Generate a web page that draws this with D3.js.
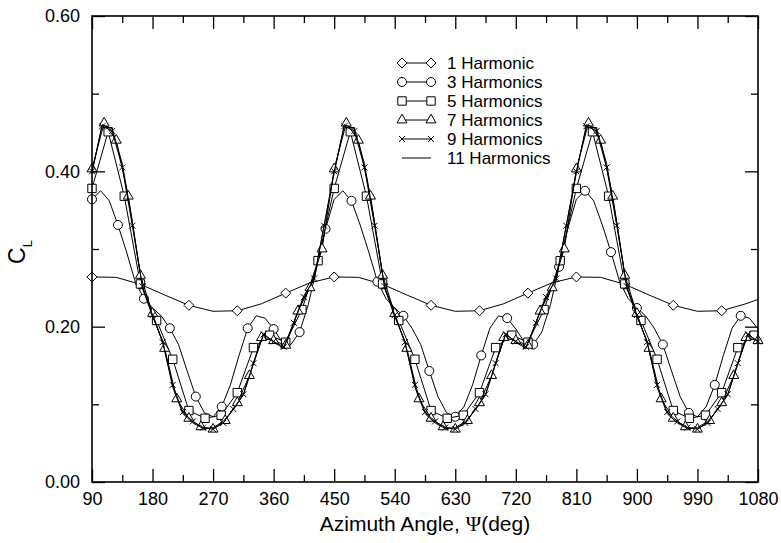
<!DOCTYPE html>
<html>
<head>
<meta charset="utf-8">
<script src="https://cdn.jsdelivr.net/npm/d3@7"></script>
<style>
  body { margin: 0; background: #fff; }
  svg { display: block; }
  text { font-family: "Liberation Sans", Arial, Helvetica, sans-serif; fill: #000; }
</style>
</head>
<body>
<svg id="chart" width="781" height="543"></svg>
<script>
// ---------------- DATA ----------------
const seriesNames = ["1 Harmonic", "3 Harmonics", "5 Harmonics", "7 Harmonics", "9 Harmonics", "11 Harmonics"];

const xTickValues = [90, 180, 270, 360, 450, 540, 630, 720, 810, 900, 990, 1080];
const xMinorTickValues = [135, 225, 315, 405, 495, 585, 675, 765, 855, 945, 1035];
const yTickValues = [0, 0.2, 0.4, 0.6];
const yMinorTickValues = [0.1, 0.3, 0.5];

// 1 Harmonic (diamond every other point)
const h1Psi = [90,126,162,198,234,270,306,342,378,414,450,486,522,558,594,630,666,702,738,774,810,846,882,918,954,990,1026,1062,1080];
const h1CL  = [0.264,0.2635,0.2545,0.2408,0.2275,0.2198,0.2205,0.2295,0.2432,0.2565,
               0.264,0.2635,0.2545,0.2408,0.2275,0.2198,0.2205,0.2295,0.2432,0.2565,
               0.264,0.2635,0.2545,0.2408,0.2275,0.2198,0.2205,0.2295,0.235];

// 3 Harmonics (sample step 90/7 deg, circle every 3rd point)
const h3Start = 90, h3Step = 90 / 7;
const h3CL = [0.364,0.375,0.362,0.331,0.296,0.258,0.236,0.224,0.214,0.198,0.177,0.143,0.110,0.089,
              0.084,0.097,0.125,0.163,0.198,0.214,0.211,0.197,0.180,0.177,0.193,0.228,0.277,0.326,
              0.364,0.375,0.362,0.331,0.296,0.258,0.236,0.224,0.214,0.198,0.177,0.143,0.110,0.089,
              0.084,0.097,0.125,0.163,0.198,0.214,0.211,0.197,0.180,0.177,0.193,0.228,0.277,0.326,
              0.364,0.375,0.362,0.331,0.296,0.258,0.236,0.224,0.214,0.198,0.177,0.143,0.110,0.089,
              0.084,0.097,0.125,0.163,0.198,0.214,0.211,0.197];

// 5 Harmonics (step 24 deg, square at every point)
const h5Start = 90, h5Step = 24;
const h5CL = [0.378,0.451,0.368,0.255,0.208,0.158,0.092,0.082,0.086,0.115,0.173,0.189,0.180,0.222,0.285,
              0.378,0.451,0.368,0.255,0.208,0.158,0.092,0.082,0.086,0.115,0.173,0.189,0.180,0.222,0.285,
              0.378,0.451,0.368,0.255,0.208,0.158,0.092,0.082,0.086,0.115,0.173,0.189];

// 7 Harmonics (step 18 deg, triangle at every point)
const h7Start = 90, h7Step = 18;
const h7CL = [0.403,0.462,0.440,0.368,0.266,0.217,0.172,0.107,0.082,0.071,0.068,0.079,0.102,0.137,0.186,0.182,0.176,0.220,0.250,0.300,
              0.403,0.462,0.440,0.368,0.266,0.217,0.172,0.107,0.082,0.071,0.068,0.079,0.102,0.137,0.186,0.182,0.176,0.220,0.250,0.300,
              0.403,0.462,0.440,0.368,0.266,0.217,0.172,0.107,0.082,0.071,0.068,0.079,0.102,0.137,0.186,0.182];

// 9 Harmonics (step 15 deg, cross at every point)
const h9Start = 90, h9Step = 15;
const h9CL = [0.400,0.458,0.452,0.405,0.330,0.252,0.215,0.180,0.125,0.090,0.078,0.070,0.068,0.076,0.094,0.113,0.153,0.190,0.181,0.174,0.205,0.238,0.262,0.330,
              0.400,0.458,0.452,0.405,0.330,0.252,0.215,0.180,0.125,0.090,0.078,0.070,0.068,0.076,0.094,0.113,0.153,0.190,0.181,0.174,0.205,0.238,0.262,0.330,
              0.400,0.458,0.452,0.405,0.330,0.252,0.215,0.180,0.125,0.090,0.078,0.070,0.068,0.076,0.094,0.113,0.153,0.190,0.181];

// 11 Harmonics (step 15 deg, plain line)
const h11Start = 90, h11Step = 15;
const h11CL = [0.398,0.460,0.455,0.410,0.335,0.250,0.213,0.182,0.122,0.088,0.076,0.069,0.070,0.078,0.093,0.112,0.152,0.191,0.180,0.172,0.206,0.240,0.260,0.330,
               0.398,0.460,0.455,0.410,0.335,0.250,0.213,0.182,0.122,0.088,0.076,0.069,0.070,0.078,0.093,0.112,0.152,0.191,0.180,0.172,0.206,0.240,0.260,0.330,
               0.398,0.460,0.455,0.410,0.335,0.250,0.213,0.182,0.122,0.088,0.076,0.069,0.070,0.078,0.093,0.112,0.152,0.191,0.180];

// ---------------- BUILD ----------------
function stepped(start, step, vals) { return vals.map((v, i) => ({ psi: start + i * step, cl: v, i })); }
const series = [
  { name: seriesNames[0], pts: h1Psi.map((p, i) => ({ psi: p, cl: h1CL[i], i })), marker: "diamond", every: 2, maxIdx: 27 },
  { name: seriesNames[1], pts: stepped(h3Start, h3Step, h3CL), marker: "circle", every: 3, maxIdx: 999 },
  { name: seriesNames[2], pts: stepped(h5Start, h5Step, h5CL), marker: "square", every: 1, maxIdx: 999 },
  { name: seriesNames[3], pts: stepped(h7Start, h7Step, h7CL), marker: "triangle", every: 1, maxIdx: 999 },
  { name: seriesNames[4], pts: stepped(h9Start, h9Step, h9CL), marker: "cross", every: 1, maxIdx: 999 },
  { name: seriesNames[5], pts: stepped(h11Start, h11Step, h11CL), marker: null, every: 1, maxIdx: 999 }
];

const svg = d3.select("#chart");
const L = 92, R = 758, T = 16, B = 482;
const x = d3.scaleLinear().domain([90, 1080]).range([L, R]);
const y = d3.scaleLinear().domain([0, 0.6]).range([B, T]);

const markerPath = {
  diamond: "M0,-5L5,0L0,5L-5,0Z",
  square: "M-4.2,-4.2H4.2V4.2H-4.2Z",
  triangle: "M0,-5.8L5,2.9L-5,2.9Z",
  cross: "M-3,-3L3,3M-3,3L3,-3",
  circle: null
};

function drawMarker(g, type, cx, cy) {
  if (type === "circle") {
    g.append("circle").attr("cx", cx).attr("cy", cy).attr("r", 4.5)
      .attr("fill", "#fff").attr("stroke", "#000").attr("stroke-width", 1);
  } else {
    g.append("path").attr("d", markerPath[type]).attr("transform", `translate(${cx},${cy})`)
      .attr("fill", type === "cross" ? "none" : "#fff").attr("stroke", "#000").attr("stroke-width", 1);
  }
}

const plot = svg.append("g");
const line = d3.line().x(d => x(d.psi)).y(d => y(d.cl)).curve(d3.curveLinear);

series.forEach(s => {
  const g = plot.append("g");
  g.append("path").attr("d", line(s.pts)).attr("fill", "none")
    .attr("stroke", "#000").attr("stroke-width", 1);
  if (s.marker) {
    s.pts.filter(d => d.i % s.every === 0 && d.i <= s.maxIdx)
      .forEach(d => drawMarker(g, s.marker, x(d.psi), y(d.cl)));
  }
});

// ---------------- AXES ----------------
const axisFont = "18px";
function styleAxis(g) {
  g.selectAll(".domain").remove();
  g.selectAll(".tick line").attr("stroke", "#000").attr("stroke-width", 1.3);
  g.selectAll(".tick text").style("font-size", axisFont).attr("fill", "#000")
    .style("font-family", '"Liberation Sans", Arial, Helvetica, sans-serif');
}
// bottom
svg.append("g").attr("transform", `translate(0,${B})`)
  .call(d3.axisBottom(x).tickValues(xTickValues).tickSize(-13).tickPadding(10).tickFormat(d3.format("d")))
  .call(styleAxis);
svg.append("g").attr("transform", `translate(0,${B})`)
  .call(d3.axisBottom(x).tickValues(xMinorTickValues).tickSize(-7).tickFormat(""))
  .call(styleAxis);
// top
svg.append("g").attr("transform", `translate(0,${T})`)
  .call(d3.axisTop(x).tickValues(xTickValues).tickSize(-13).tickFormat(""))
  .call(styleAxis);
svg.append("g").attr("transform", `translate(0,${T})`)
  .call(d3.axisTop(x).tickValues(xMinorTickValues).tickSize(-7).tickFormat(""))
  .call(styleAxis);
// left
svg.append("g").attr("transform", `translate(${L},0)`)
  .call(d3.axisLeft(y).tickValues(yTickValues).tickSize(-13).tickPadding(12).tickFormat(d3.format(".2f")))
  .call(styleAxis);
svg.append("g").attr("transform", `translate(${L},0)`)
  .call(d3.axisLeft(y).tickValues(yMinorTickValues).tickSize(-7).tickFormat(""))
  .call(styleAxis);
// right
svg.append("g").attr("transform", `translate(${R},0)`)
  .call(d3.axisRight(y).tickValues(yTickValues).tickSize(-13).tickFormat(""))
  .call(styleAxis);
svg.append("g").attr("transform", `translate(${R},0)`)
  .call(d3.axisRight(y).tickValues(yMinorTickValues).tickSize(-7).tickFormat(""))
  .call(styleAxis);

// frame
svg.append("rect").attr("x", L).attr("y", T).attr("width", R - L).attr("height", B - T)
  .attr("fill", "none").attr("stroke", "#000").attr("stroke-width", 1.6);

// axis titles
const xt = svg.append("text").attr("x", (L + R) / 2).attr("y", 531)
  .attr("text-anchor", "middle").style("font-size", "21px");
xt.append("tspan").text("Azimuth Angle, ");
xt.append("tspan").style("font-family", '"Liberation Serif", "Times New Roman", serif').text("Ψ");
xt.append("tspan").text("(deg)");

const yt = svg.append("text").attr("transform", "translate(25,252) rotate(-90)")
  .attr("text-anchor", "middle").style("font-size", "23px");
yt.append("tspan").text("C");
yt.append("tspan").attr("dy", 7).style("font-size", "13px").text("L");

// ---------------- LEGEND ----------------
const legY0 = 63, legDY = 19;
const leg = svg.append("g");
series.forEach((s, k) => {
  const ly = legY0 + k * legDY;
  leg.append("line").attr("x1", 402).attr("x2", 431).attr("y1", ly).attr("y2", ly)
    .attr("stroke", "#000").attr("stroke-width", 1);
  if (s.marker) { drawMarker(leg, s.marker, 402, ly); drawMarker(leg, s.marker, 431, ly); }
  leg.append("text").attr("x", 447).attr("y", ly + 6).style("font-size", "17px").text(s.name);
});
</script>
</body>
</html>
